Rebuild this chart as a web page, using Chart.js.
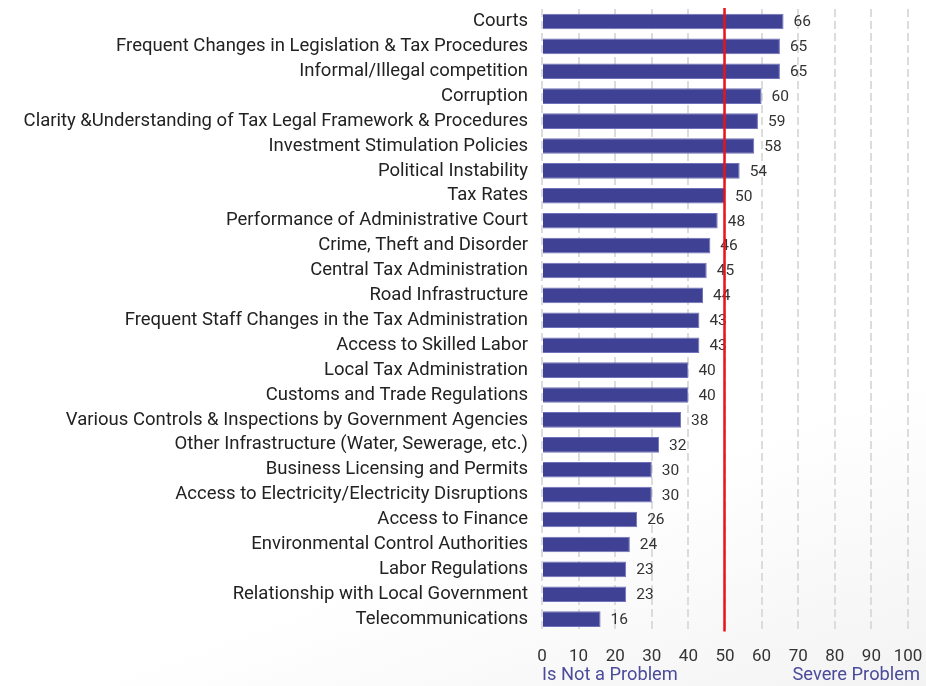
<!DOCTYPE html>
<html><head><meta charset="utf-8">
<script src="https://cdn.jsdelivr.net/npm/chart.js@4"></script>
<style>html,body{margin:0;padding:0;background:#fff;}#wrap{width:926px;height:686px;position:relative;background:linear-gradient(160deg,#ffffff 70%,#f3f3f4 100%);}</style>
</head><body><div id="wrap"><canvas id="c" width="926" height="686"></canvas></div>
<script>
const categories = ["Courts","Frequent Changes in Legislation & Tax Procedures","Informal/Illegal competition","Corruption","Clarity &Understanding of Tax Legal Framework & Procedures","Investment Stimulation Policies","Political Instability","Tax Rates","Performance of Administrative Court","Crime, Theft and Disorder","Central Tax Administration","Road Infrastructure","Frequent Staff Changes in the Tax Administration","Access to Skilled Labor","Local Tax Administration","Customs and Trade Regulations","Various Controls & Inspections by Government Agencies","Other Infrastructure (Water, Sewerage, etc.)","Business Licensing and Permits","Access to Electricity/Electricity Disruptions","Access to Finance","Environmental Control Authorities","Labor Regulations","Relationship with Local Government","Telecommunications"];
const values = [66,65,65,60,59,58,54,50,48,46,45,44,43,43,40,40,38,32,30,30,26,24,23,23,16];
const threshold = 50;
const axisNotes = ["Is Not a Problem","Severe Problem"];
const FONT = "Roboto, 'DejaVu Sans', sans-serif";

const overlay = {
  id:'overlay',
  afterDatasetsDraw(chart){
    const ctx = chart.ctx, x = chart.scales.x, meta = chart.getDatasetMeta(0);
    ctx.save();
    ctx.font = "15.5px " + FONT; ctx.fillStyle = "#333"; ctx.textBaseline = "middle"; ctx.textAlign = "left";
    meta.data.forEach((bar,i)=>{ ctx.fillText(String(values[i]), bar.x + 10, bar.y + 1); });
    const px = Math.round(x.getPixelForValue(threshold)) - 0.5;
    ctx.strokeStyle = "#e8141c"; ctx.lineWidth = 2.5;
    ctx.beginPath(); ctx.moveTo(px, 8); ctx.lineTo(px, chart.chartArea.bottom); ctx.stroke();
    ctx.font = "18.3px " + FONT; ctx.fillStyle = "#4a4b9a"; ctx.textBaseline = "middle";
    ctx.textAlign = "left"; ctx.fillText(axisNotes[0], x.getPixelForValue(0), 675);
    ctx.textAlign = "right"; ctx.fillText(axisNotes[1], x.getPixelForValue(100) + 12, 675);
    ctx.restore();
  }
};

new Chart(document.getElementById('c'), {
  type:'bar',
  data:{labels:categories, datasets:[{data:values, backgroundColor:"#3e4194", borderColor:"#6f72b8", borderWidth:1, barPercentage:0.66, categoryPercentage:0.95}]},
  options:{
    indexAxis:'y', responsive:false, animation:false,
    layout:{padding:{top:9,right:0,bottom:4,left:0}},
    plugins:{legend:{display:false}, tooltip:{enabled:false}},
    scales:{
      x:{min:0,max:100,ticks:{stepSize:10,color:"#333",font:{family:FONT,size:17},padding:15},
         grid:{color:"#dcdcdc",lineWidth:2,drawTicks:false, tickLength:0},
         border:{display:false, dash:[8,4]},
         afterFit(s){ s.paddingRight = 18; s.paddingLeft = 0; }},
      y:{ticks:{color:"#222",font:{family:FONT,size:18.5},padding:14,autoSkip:false},
         grid:{display:false, drawTicks:false}, border:{display:false},
         afterFit(s){ s.width = 542; s.paddingTop = 0; s.paddingBottom = 0; }}
    }
  },
  plugins:[overlay]
});
</script></body></html>
